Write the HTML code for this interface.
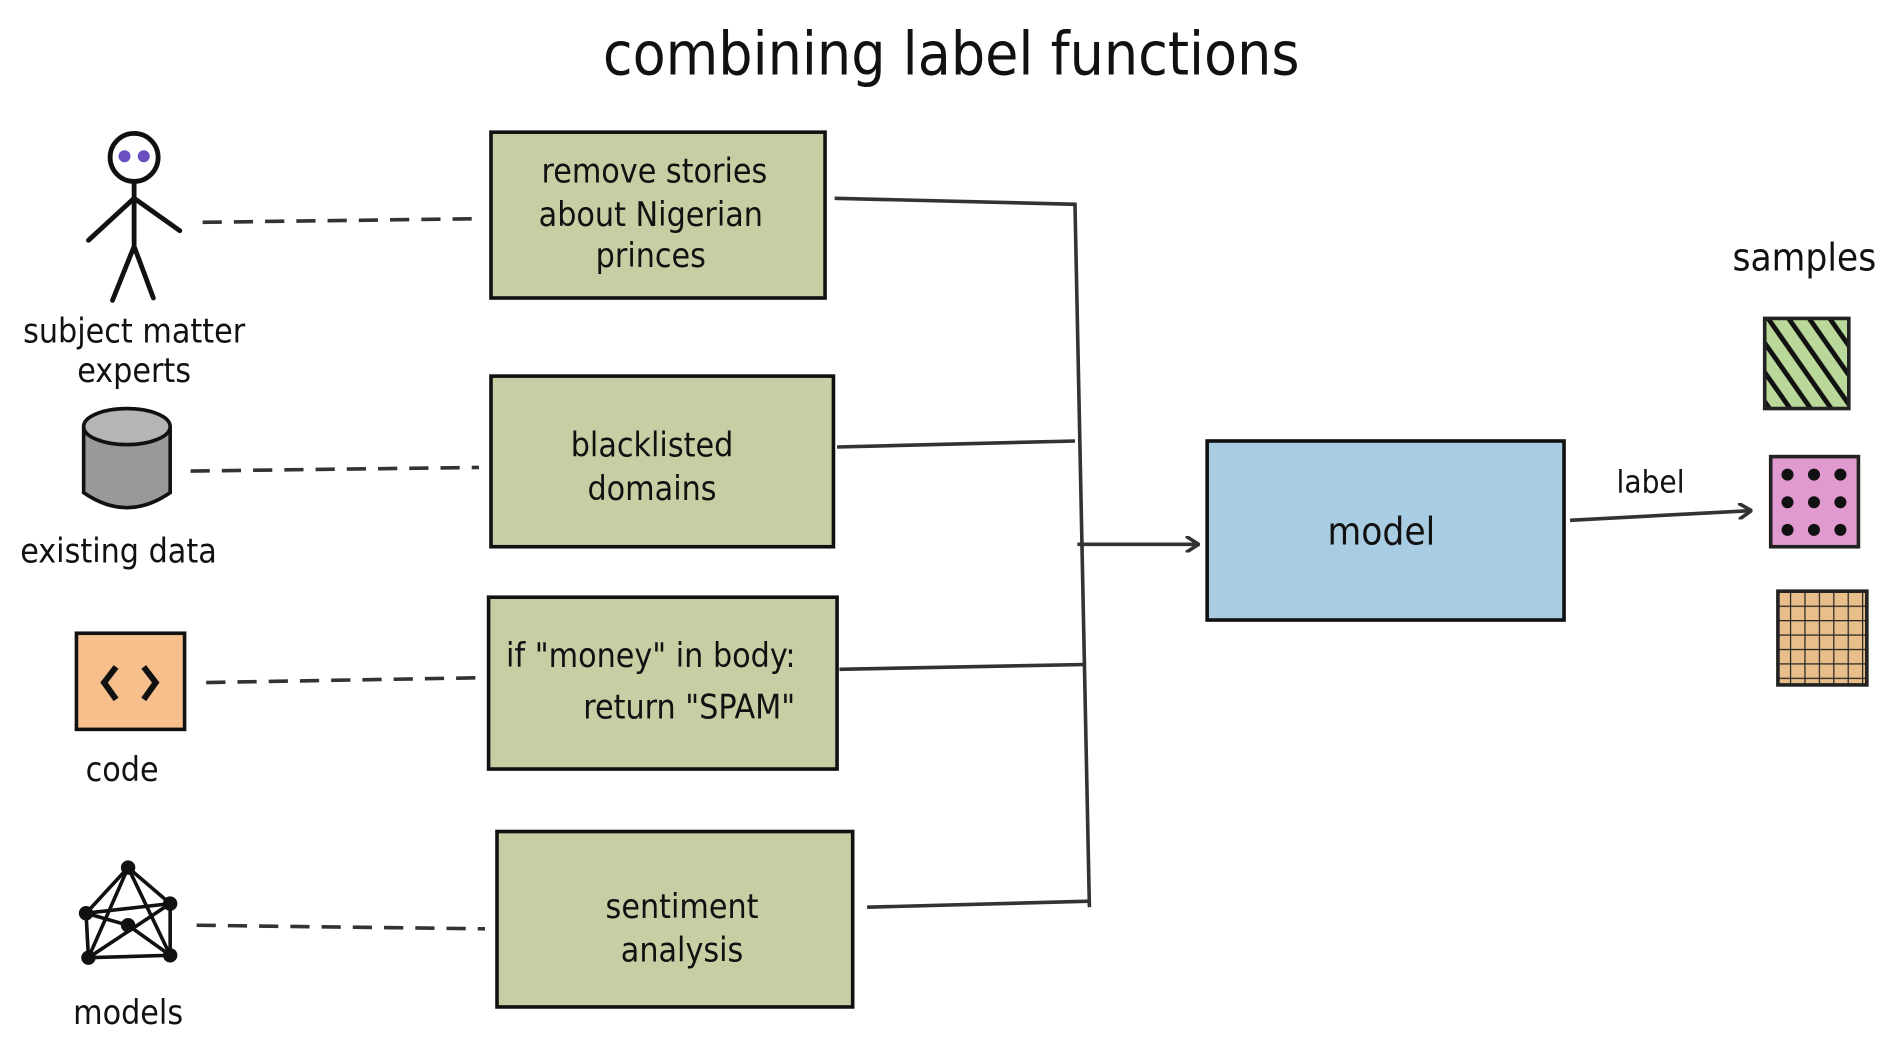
<!DOCTYPE html>
<html><head><meta charset="utf-8"><style>
html,body{margin:0;padding:0;background:#fff;}
svg{display:block}
text{font-family:"DejaVu Sans Condensed","Liberation Sans Narrow","Liberation Sans",sans-serif;fill:#111}
</style></head><body>
<svg width="1888" height="1043" viewBox="0 0 1568 868" xmlns="http://www.w3.org/2000/svg">
<defs>
<pattern id="hatch" width="14" height="14" patternUnits="userSpaceOnUse" patternTransform="rotate(-35)">
<rect width="14" height="14" fill="#b9d89a"/><rect x="0" y="0" width="4" height="14" fill="#111"/></pattern>
<pattern id="grid" width="12" height="12" patternUnits="userSpaceOnUse">
<rect width="12" height="12" fill="#e8bf8a"/><path d="M0 0H12M0 0V12" stroke="#222" stroke-width="2"/></pattern>
<marker id="ah" markerWidth="12" markerHeight="14" refX="10" refY="7" orient="auto" markerUnits="userSpaceOnUse">
<path d="M0 0 L11 7 L0 14" fill="none" stroke="#333" stroke-width="3"/></marker>
</defs>
<text x="790" y="62" font-size="50" text-anchor="middle">combining label functions</text>

<g stroke="#111" stroke-width="3">
<rect x="407" y="110" width="278" height="138" fill="#c7cea3"/>
<rect x="407" y="313" width="285" height="142" fill="#c7cea3"/>
<rect x="405" y="497" width="290" height="143" fill="#c7cea3"/>
<rect x="412" y="692" width="296" height="146" fill="#c7cea3"/>
<rect x="1003" y="367" width="297" height="149" fill="#a8cde2"/>
</g>
<g font-size="28" text-anchor="middle">
<text x="543" y="152">remove stories</text>
<text x="540" y="188">about Nigerian</text>
<text x="540" y="222">princes</text>
<text x="541" y="380">blacklisted</text>
<text x="541" y="416">domains</text>
<text x="540" y="555">if "money" in body:</text>
<text x="572" y="598">return "SPAM"</text>
<text x="566" y="764">sentiment</text>
<text x="566" y="800">analysis</text>
<text x="1148" y="453" font-size="32">model</text>
<text x="1372" y="410" font-size="26">label</text>
<text x="1500" y="225" font-size="32">samples</text>
<text x="110" y="285">subject matter</text>
<text x="110" y="318">experts</text>
<text x="97" y="468">existing data</text>
<text x="100" y="650">code</text>
<text x="105" y="852">models</text>
</g>

<g stroke="#333" stroke-width="3" fill="none">
<path d="M693 165 L893 170 L905 755"/>
<path d="M695 372 L893 367"/>
<path d="M697 557 L902 553"/>
<path d="M720 755 L905 750"/>
<path d="M895 453 L995 453" marker-end="url(#ah)"/>
<path d="M1305 433 L1455 425" marker-end="url(#ah)"/>
<g stroke-dasharray="16 10">
<path d="M167 185 L397 182"/>
<path d="M157 392 L397 389"/>
<path d="M170 568 L400 564"/>
<path d="M162 770 L402 773"/>
</g>
</g>

<!-- stick figure -->
<g stroke="#111" stroke-width="4" fill="none" stroke-linecap="round">
<circle cx="110" cy="131" r="20"/>
<path d="M110 151 L110 205 M110 205 L92 250 M110 205 L126 248 M110 165 L72 200 M110 165 L148 192"/>
</g>
<circle cx="102" cy="130" r="5" fill="#6a4fc0"/><circle cx="118" cy="130" r="5" fill="#6a4fc0"/>
<!-- cylinder -->
<g stroke="#111" stroke-width="3">
<path d="M68 355 L68 410 Q104 435 140 410 L140 355" fill="#999"/>
<ellipse cx="104" cy="355" rx="36" ry="15" fill="#b5b5b5"/>
</g>
<!-- code -->
<rect x="62" y="527" width="90" height="80" fill="#f6bf8b" stroke="#111" stroke-width="3"/>
<path d="M95 555 L85 568 L95 582 M118 555 L128 568 L118 582" stroke="#111" stroke-width="5" fill="none"/>
<!-- network -->
<g stroke="#111" stroke-width="3" fill="none">
<path d="M105 722 L140 752 L140 795 L72 797 L70 760 Z M105 722 L72 797 M105 722 L140 795 M70 760 L140 752 M72 797 L140 752 M70 760 L105 770 L140 795"/>
</g>
<g fill="#111"><circle cx="105" cy="722" r="6"/><circle cx="140" cy="752" r="6"/><circle cx="140" cy="795" r="6"/><circle cx="72" cy="797" r="6"/><circle cx="70" cy="760" r="6"/><circle cx="105" cy="770" r="6"/></g>
<!-- samples -->
<rect x="1467" y="265" width="70" height="75" fill="url(#hatch)" stroke="#222" stroke-width="3"/>
<rect x="1472" y="380" width="73" height="75" fill="#e09ad0" stroke="#222" stroke-width="3"/>
<g fill="#111">
<circle cx="1486" cy="395" r="5"/><circle cx="1508" cy="395" r="5"/><circle cx="1530" cy="395" r="5"/>
<circle cx="1486" cy="418" r="5"/><circle cx="1508" cy="418" r="5"/><circle cx="1530" cy="418" r="5"/>
<circle cx="1486" cy="441" r="5"/><circle cx="1508" cy="441" r="5"/><circle cx="1530" cy="441" r="5"/>
</g>
<rect x="1478" y="492" width="74" height="78" fill="url(#grid)" stroke="#222" stroke-width="3"/>
</svg>
</body></html>
